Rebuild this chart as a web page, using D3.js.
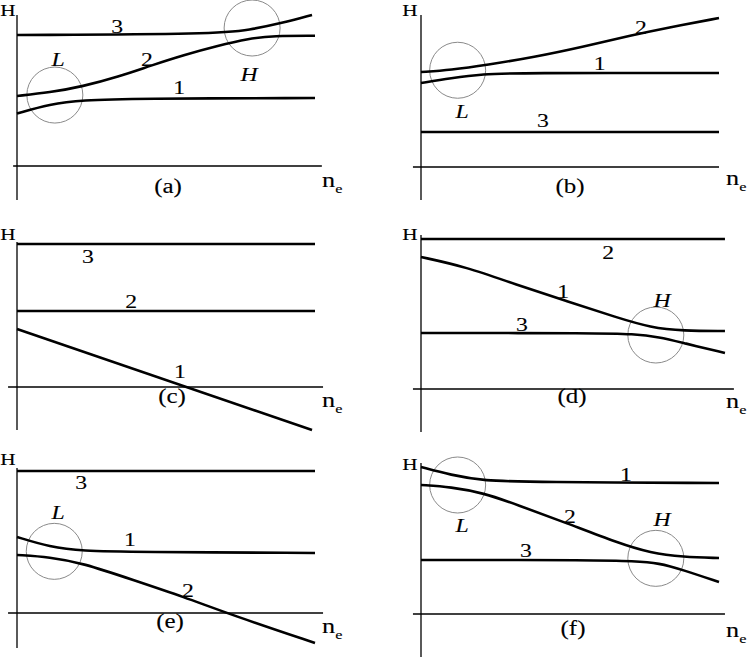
<!DOCTYPE html>
<html>
<head>
<meta charset="utf-8">
<script src="https://cdn.jsdelivr.net/npm/d3@7"></script>
<style>
  html, body { margin: 0; padding: 0; background: #fff; }
  svg { display: block; }
  text { fill: #000; stroke: #000; stroke-width: 0.12px; }
</style>
</head>
<body>
<svg id="chart" width="747" height="664" font-family="'Liberation Serif', 'DejaVu Serif', serif"></svg>
<script>
// ---------------- DATA (n_e on x, H on y, arbitrary units) ----------------
const panelTags = ["(a)", "(b)", "(c)", "(d)", "(e)", "(f)"];
const curveNames = ["1", "2", "3"];

// curves 1, 2, 3 of each panel: [n_e, H]
const linesA = [
  [[0, 3.5], [1.1, 4.13], [2.2, 4.4], [3.9, 4.5], [10, 4.53]],
  [[0, 4.67], [1.1, 4.9], [2.2, 5.3], [3.4, 5.95], [4.5, 6.7], [5.6, 7.4], [6.7, 8.0], [7.8, 8.5], [8.6, 8.68], [10, 8.68]],
  [[0, 8.73], [6.7, 8.8], [7.8, 9.07], [8.9, 9.53], [9.9, 10.07]]
];
const linesB = [
  [[0, 5.6], [1.0, 5.93], [2.1, 6.2], [3.2, 6.27], [10, 6.27]],
  [[0, 6.33], [1.0, 6.47], [2.2, 6.8], [3.8, 7.33], [5.4, 8.0], [7.1, 8.8], [8.3, 9.3], [10, 9.93]],
  [[0, 2.33], [10, 2.33]]
];
const linesC = [
  [[0, 3.87], [9.9, -2.87]],
  [[0, 5.07], [10, 5.07]],
  [[0, 9.53], [10, 9.53]]
];
const linesD = [
  [[0, 8.8], [1.5, 8.15], [3.2, 6.95], [4.9, 5.85], [6.6, 4.75], [7.7, 4.1], [8.8, 3.87], [10.2, 3.87]],
  [[0, 10.0], [10.2, 10.0]],
  [[0, 3.73], [6.0, 3.73], [7.1, 3.67], [8.0, 3.47], [8.8, 3.07], [10.2, 2.4]]
];
const linesE = [
  [[0, 5.07], [1.1, 4.4], [2.2, 4.13], [3.9, 4.07], [10, 4.0]],
  [[0, 3.87], [1.1, 3.73], [2.2, 3.33], [3.9, 2.2], [5.6, 1.07], [7.2, -0.13], [10, -2.0]],
  [[0, 9.47], [10, 9.47]]
];
const linesF = [
  [[0, 9.8], [1.0, 9.27], [2.1, 8.87], [3.8, 8.8], [10, 8.73]],
  [[0, 8.6], [1.0, 8.47], [2.1, 8.07], [3.2, 7.3], [4.9, 6.05], [6.6, 4.75], [7.7, 4.07], [8.8, 3.8], [10, 3.73]],
  [[0, 3.6], [6.0, 3.6], [7.1, 3.53], [8.0, 3.4], [8.8, 2.93], [10, 2.13]]
];

// where the curve numbers sit: [n_e, H] for curves 1, 2, 3
const numPosA = [[5.44, 5.2], [4.36, 7.13], [3.36, 9.27]];
const numPosB = [[6.0, 6.93], [7.38, 9.33], [4.09, 3.07]];
const numPosC = [[5.47, 1.0], [3.83, 5.73], [2.38, 8.67]];
const numPosD = [[4.77, 6.47], [6.28, 9.13], [3.39, 4.33]];
const numPosE = [[3.79, 4.93], [5.74, 1.47], [2.15, 8.73]];
const numPosF = [[6.88, 9.27], [5.0, 6.47], [3.52, 4.2]];

// anti-crossing regions: name, centre [n_e, H], label [n_e, H]
const regionsA = [{ name: "L", c: [1.27, 4.73], t: [1.38, 7.07] }, { name: "H", c: [7.89, 9.2], t: [7.79, 6.07] }];
const regionsB = [{ name: "L", c: [1.23, 6.45], t: [1.38, 3.67] }];
const regionsC = [];
const regionsD = [{ name: "H", c: [7.88, 3.6], t: [8.09, 5.93] }];
const regionsE = [{ name: "L", c: [1.25, 4.11], t: [1.38, 6.73] }];
const regionsF = [{ name: "L", c: [1.23, 8.6], t: [1.38, 5.87] }, { name: "H", c: [7.88, 3.71], t: [8.09, 6.27] }];

// axis extents [n_e min, n_e max], [H min, H max]
const axisXA = [-0.13, 10.23], axisYA = [-2.27, 10.07];
const axisXB = [-0.27, 10.0],  axisYB = [-2.2, 10.13];
const axisXC = [-0.3, 10.27],  axisYC = [-2.87, 9.67];
const axisXD = [-0.27, 10.5],  axisYD = [-2.87, 10.27];
const axisXE = [-0.3, 10.27],  axisYE = [-2.33, 9.67];
const axisXF = [-0.27, 10.2],  axisYF = [-2.87, 10.07];

// ---------------- LAYOUT ----------------
const layout = [
  { ox: 17,  oy: 166, lines: linesA, nums: numPosA, regions: regionsA, ax: axisXA, ay: axisYA, hdx: -9,  hy: 10,  tagDx: 151, tagDy: 22, neDy: 21 },
  { ox: 421, oy: 167, lines: linesB, nums: numPosB, regions: regionsB, ax: axisXB, ay: axisYB, hdx: -11, hy: 10,  tagDx: 149, tagDy: 21, neDy: 18 },
  { ox: 17,  oy: 387, lines: linesC, nums: numPosC, regions: regionsC, ax: axisXC, ay: axisYC, hdx: -9,  hy: 234, tagDx: 155, tagDy: 11, neDy: 20 },
  { ox: 421, oy: 389, lines: linesD, nums: numPosD, regions: regionsD, ax: axisXD, ay: axisYD, hdx: -11, hy: 234, tagDx: 151, tagDy: 9,  neDy: 19 },
  { ox: 17,  oy: 613, lines: linesE, nums: numPosE, regions: regionsE, ax: axisXE, ay: axisYE, hdx: -9,  hy: 459, tagDx: 153, tagDy: 10, neDy: 20 },
  { ox: 421, oy: 614, lines: linesF, nums: numPosF, regions: regionsF, ax: axisXF, ay: axisYF, hdx: -11, hy: 464, tagDx: 152, tagDy: 16, neDy: 23 }
];

const STRETCH = 1.25; // the reference lettering is horizontally widened

const svg = d3.select("#chart");
svg.append("rect").attr("width", 747).attr("height", 664).attr("fill", "#fff");

const x = d3.scaleLinear().domain([0, 10]).range([0, 298]);
const y = d3.scaleLinear().domain([0, 10]).range([0, -150]);
const line = d3.line().x(d => x(d[0])).y(d => y(d[1])).curve(d3.curveBasis);

function place(sel, fx, fy) {
  return sel.attr("transform", (d, k) => `translate(${fx(d, k)},${fy(d, k)}) scale(${STRETCH},1)`);
}

layout.forEach((p, i) => {
  const g = svg.append("g").attr("transform", `translate(${p.ox},${p.oy})`);

  // axes
  g.append("line")
    .attr("x1", x(p.ax[0])).attr("x2", x(p.ax[1]))
    .attr("y1", y(0)).attr("y2", y(0))
    .attr("stroke", "#000").attr("stroke-width", 1.3);
  g.append("line")
    .attr("x1", x(0)).attr("x2", x(0))
    .attr("y1", y(p.ay[0])).attr("y2", y(p.ay[1]))
    .attr("stroke", "#000").attr("stroke-width", 1.3);

  // anti-crossing circles
  g.selectAll("circle.reg").data(p.regions).enter().append("circle")
    .attr("class", "reg")
    .attr("cx", d => x(d.c[0])).attr("cy", d => y(d.c[1]))
    .attr("r", 28)
    .attr("fill", "none").attr("stroke", "#8a8a8a").attr("stroke-width", 1);

  // curves
  g.selectAll("path.curve").data(p.lines).enter().append("path")
    .attr("class", "curve")
    .attr("d", line)
    .attr("fill", "none").attr("stroke", "#000").attr("stroke-width", 2.6);

  // curve numbers
  place(g.selectAll("text.num").data(p.nums).enter().append("text").attr("class", "num"),
        d => x(d[0]), d => y(d[1]))
    .attr("dy", "0.34em")
    .attr("text-anchor", "middle")
    .attr("font-size", 19)
    .text((d, k) => curveNames[k]);

  // region labels
  place(g.selectAll("text.reg").data(p.regions).enter().append("text").attr("class", "reg"),
        d => x(d.t[0]), d => y(d.t[1]))
    .attr("dy", "0.34em")
    .attr("text-anchor", "middle")
    .attr("font-size", 19)
    .attr("font-style", "italic")
    .text(d => d.name);

  // panel tag
  g.append("text")
    .attr("transform", `translate(${p.tagDx},${p.tagDy}) scale(${STRETCH},1)`)
    .attr("dy", "0.27em")
    .attr("text-anchor", "middle")
    .attr("font-size", 20)
    .text(panelTags[i]);

  // n_e
  const ne = g.append("text")
    .attr("transform", `translate(305,${p.neDy}) scale(${STRETCH},1)`)
    .attr("font-size", 21);
  ne.append("tspan").text("n");
  ne.append("tspan").attr("font-size", 13).attr("dy", 6).text("e");

  // H axis label
  svg.append("text")
    .attr("transform", `translate(${p.ox + p.hdx},${p.hy}) scale(${STRETCH},1)`)
    .attr("dy", "0.34em")
    .attr("text-anchor", "middle")
    .attr("font-size", 17)
    .text("H");
});
</script>
</body>
</html>
